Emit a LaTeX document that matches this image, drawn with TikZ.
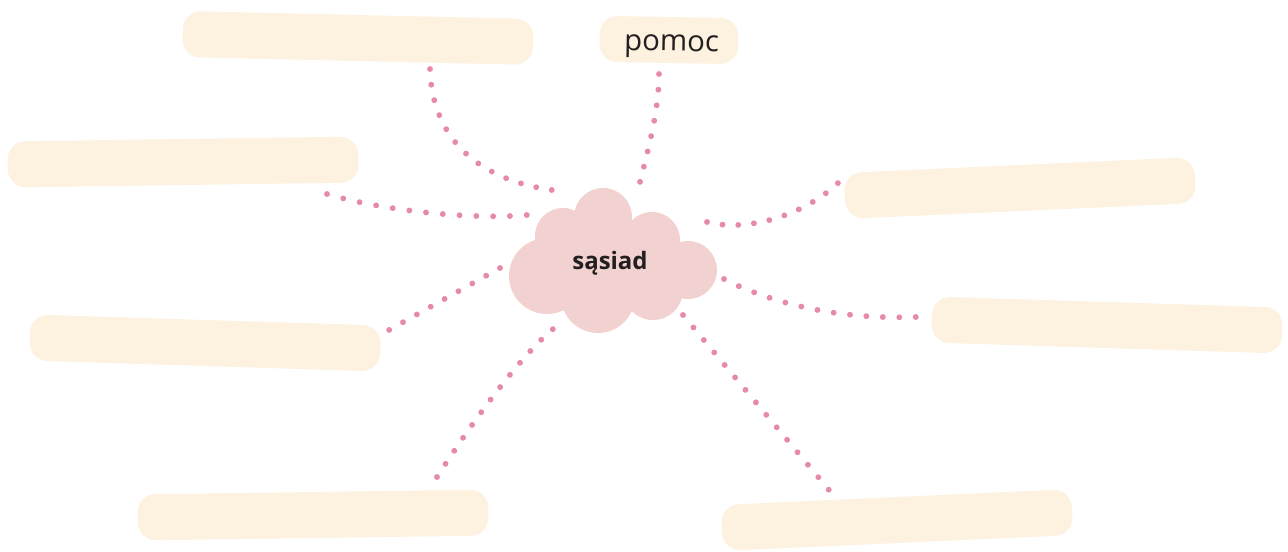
\documentclass[tikz,border=0pt]{standalone}
\usepackage{fontspec}
\setmainfont{Open Sans}
\usetikzlibrary{calc,decorations.markings}
\definecolor{boxfill}{HTML}{FDF1E0}
\definecolor{cloudfill}{HTML}{F2D1D1}
\definecolor{dotpink}{HTML}{E68AA8}
\definecolor{inkdark}{HTML}{231F20}

\begin{document}
\begin{tikzpicture}[x=0.75pt, y=-0.75pt,
  answer/.style={fill=boxfill, rounded corners=13.5pt, minimum width=263pt, minimum height=34.5pt, inner sep=0pt},
  dots/.style={decorate, decoration={markings,
    mark=between positions 0 and 1 step #1 with {\fill[dotpink] circle[radius=2.2pt];}}}]
\useasboundingbox (0,0) rectangle (1288,551);

% answer boxes
\node[answer, rotate=-1.3] (b1) at (358,38) {};
\node[answer, minimum width=104pt, rotate=-1, text=inkdark, text height=16.5pt, text depth=0pt,
  font=\fontsize{22}{26}\selectfont] (pomoc) at (669,40) {\hspace*{4pt}pomoc};
\node[answer, rotate=0.8] (b3) at (183,162) {};
\node[answer, rotate=2.6] (b4) at (1020,188) {};
\node[answer, rotate=-1.8] (b5) at (1107,325) {};
\node[answer, rotate=-1.8] (b6) at (205,343) {};
\node[answer, rotate=0.8] (b7) at (313,515) {};
\node[answer, rotate=2.6] (b8) at (897,520) {};

% cloud
\fill[cloudfill] (547,276) circle[radius=38] (563,236) circle[radius=28]
  (603,217) circle[radius=29] (652,240) circle[radius=28] (688,270) circle[radius=29]
  (598,296) circle[radius=37] (653,290) circle[radius=30] (610,258) circle[radius=40];
\node[text=inkdark, font=\bfseries\fontsize{18}{21}\selectfont] (cloud) at (610,263) {sąsiad};

% ends of the dotted lines
\coordinate (s1) at (430,69);  \coordinate (t1) at (552,190);
\coordinate (s2) at (659,74);  \coordinate (t2) at (640,182);
\coordinate (s3) at (327,194); \coordinate (t3) at (527,215);
\coordinate (s4) at (838,183); \coordinate (t4) at (707,222);
\coordinate (s5) at (916,317); \coordinate (t5) at (724,279);
\coordinate (s6) at (389,330); \coordinate (t6) at (500,268);
\coordinate (s7) at (437,477); \coordinate (t7) at (553,329);
\coordinate (s8) at (829,490); \coordinate (t8) at (683,315);

\path[dots=0.0832] (s1) .. controls +(2,71) and +(-72,-10) .. (t1);
\path[dots=0.1427] (s2) .. controls +(0,36) and +(8,-32) .. (t2);
\path[dots=0.0832] (s3) .. controls +(53,16) and +(-57,5) .. (t3);
\path[dots=0.1110] (t4) .. controls +(38,10) and +(-36,34) .. (s4);
\path[dots=0.0832] (t5) .. controls +(41,21) and +(-86,3) .. (s5);
\path[dots=0.1249] (t6) -- (s6);
\path[dots=0.0832] (s7) .. controls +(43,-67) and +(-28,23) .. (t7);
\path[dots=0.0713] (t8) -- (s8);
\end{tikzpicture}
\end{document}
